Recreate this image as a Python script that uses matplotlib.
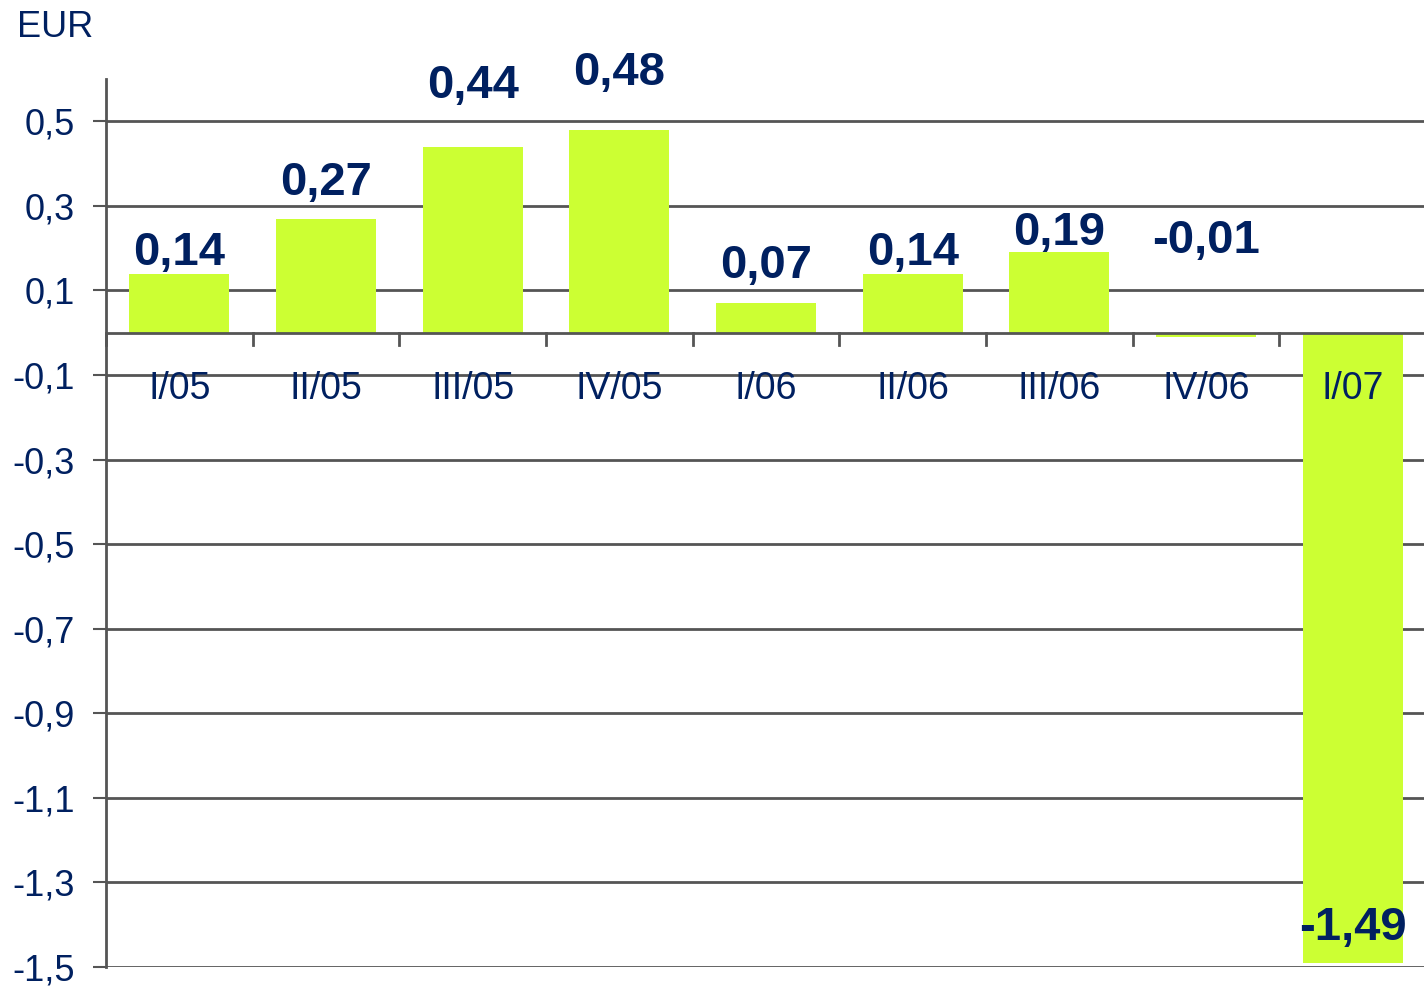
import matplotlib
matplotlib.use("Agg")
import matplotlib.pyplot as plt
import numpy as np

plt.rcParams["font.family"] = ["Liberation Sans", "DejaVu Sans"]

NAVY, LIME, GRID = "#002060", "#CCFF33", "#555555"

quarters = ["I/05", "II/05", "III/05", "IV/05", "I/06", "II/06", "III/06", "IV/06", "I/07"]
eps = [0.14, 0.27, 0.44, 0.48, 0.07, 0.14, 0.19, -0.01, -1.49]
eps_text = ["0,14", "0,27", "0,44", "0,48", "0,07", "0,14", "0,19", "-0,01", "-1,49"]
# baseline of each value label, in data units (placed by hand as in the original)
label_y = [0.160, 0.325, 0.556, 0.585, 0.129, 0.160, 0.207, 0.188, -1.436]
yticks = [0.5, 0.3, 0.1, -0.1, -0.3, -0.5, -0.7, -0.9, -1.1, -1.3, -1.5]

fig = plt.figure(figsize=(14.24, 9.86), dpi=100)
ax = fig.add_axes([106/1424, 19/986, 1320/1424, 888/986])
x = np.arange(len(quarters))

for y in yticks:
    ax.axhline(y, color=GRID, lw=2, zorder=1)
ax.bar(x, eps, width=0.68, color=LIME, zorder=2)
ax.axhline(0, color=GRID, lw=2, zorder=3)

ax.set_xlim(-0.5, len(quarters) - 0.5)
ax.set_ylim(-1.5, 0.6)
for s in ["top", "right", "bottom"]:
    ax.spines[s].set_visible(False)
ax.spines["left"].set_color(GRID)
ax.spines["left"].set_linewidth(2)

ax.set_yticks(yticks)
ax.set_yticklabels([f"{v:.1f}".replace(".", ",") for v in yticks])
ax.tick_params(axis="y", length=9.5, width=1.5, color=GRID, pad=13,
               labelsize=26, labelcolor=NAVY)

# category separators hang from the zero line
ax.set_xticks([])
for e in np.arange(-0.5, len(quarters) - 0.5, 1.0):
    ax.plot([e, e], [0, -0.03], color=GRID, lw=2, zorder=3, clip_on=False)
for xi, q in zip(x, quarters):
    ax.text(xi, -0.132, q, ha="center", va="center", fontsize=27, color=NAVY, zorder=4)

for xi, t, ly in zip(x, eps_text, label_y):
    ax.text(xi, ly, t, ha="center", va="baseline", fontsize=34, fontweight="bold",
            color=NAVY, zorder=5)

fig.text(17/1424, 1 - 37/986, "EUR", fontsize=26, color=NAVY, ha="left", va="baseline")

fig.savefig("out.png", dpi=100)
